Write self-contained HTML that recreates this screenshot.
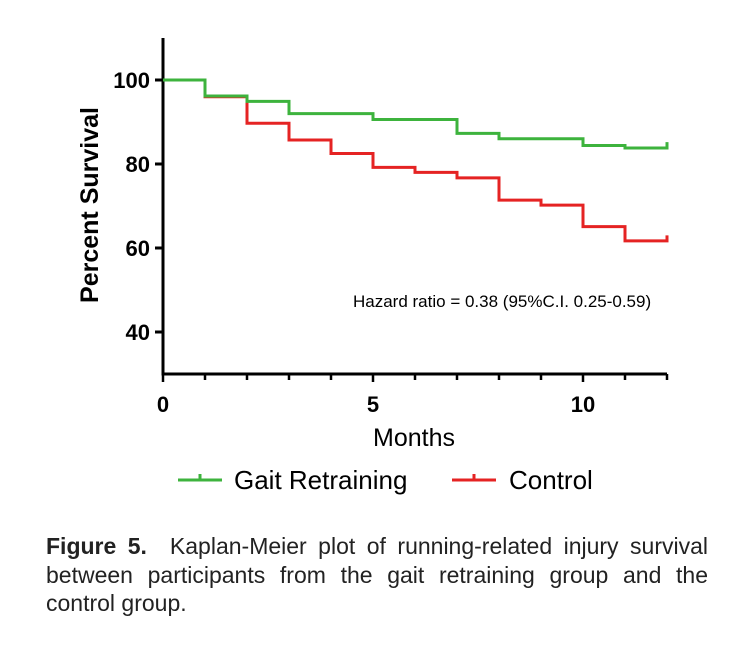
<!DOCTYPE html>
<html><head><meta charset="utf-8"><style>
body{margin:0;background:#fff;width:752px;height:650px;overflow:hidden;font-family:"Liberation Sans",Arial,sans-serif}
.cap{position:absolute;left:46px;top:532px;width:662px;font-size:23px;line-height:28.5px;color:#222}
.cap .j{text-align:justify;text-align-last:justify;white-space:nowrap}
</style></head><body>
<svg width="752" height="520" style="position:absolute;left:0;top:0" font-family="Liberation Sans, Arial, sans-serif">
<g id="axes"></g><g id="series"></g>
<text transform="translate(98,205) rotate(-90)" text-anchor="middle" font-size="25" font-weight="bold">Percent Survival</text>
<text x="414" y="446" text-anchor="middle" font-size="25">Months</text>
<text x="353" y="307" font-size="17">Hazard ratio = 0.38 (95%C.I. 0.25-0.59)</text>
<g><line x1="178" y1="480" x2="222" y2="480" stroke="#3db33d" stroke-width="3"/><line x1="200" y1="474" x2="200" y2="480" stroke="#3db33d" stroke-width="3"/><text x="234" y="489" font-size="26">Gait Retraining</text></g>
<g><line x1="452" y1="480" x2="496" y2="480" stroke="#e52323" stroke-width="3"/><line x1="474" y1="474" x2="474" y2="480" stroke="#e52323" stroke-width="3"/><text x="509" y="489" font-size="26">Control</text></g>
</svg>
<div class="cap"><div class="j"><b>Figure 5.</b>&nbsp; Kaplan-Meier plot of running-related injury survival</div><div class="j">between participants from the gait retraining group and the</div><div>control group.</div></div>
<script>
const months=[0,1,2,3,4,5,6,7,8,9,10,11,12];
const gait=[100,96.2,94.9,92,92,90.6,90.6,87.3,86,86,84.4,83.8];
const control=[100,96,89.7,85.7,82.5,79.2,78,76.7,71.4,70.2,65.1,61.7];
const gaitEnd=85.2, controlEnd=63;
const yTicks=[40,60,80,100];
const xTicks=[0,5,10];
const NS="http://www.w3.org/2000/svg";
const X=m=>163+m*42;
const Y=v=>374-(v-30)*4.2;
function mk(t,a,p){const e=document.createElementNS(NS,t);for(const k in a)e.setAttribute(k,a[k]);p.appendChild(e);return e;}
const ax=document.getElementById('axes');
const yl=mk('line',{x1:163,y1:38,x2:163,y2:375,stroke:'#000','stroke-width':3},ax);


const xl=mk('line',{x1:161.5,y1:374,x2:667,y2:374,stroke:'#000','stroke-width':3},ax);


yTicks.forEach(v=>{
 mk('line',{x1:155,y1:Y(v),x2:163,y2:Y(v),stroke:'#000','stroke-width':3},ax);
 const t=mk('text',{x:150,y:Y(v)+8,'text-anchor':'end','font-size':22,'font-weight':'bold'},ax);
 t.textContent=v;
 
 
});
months.forEach(m=>{mk('line',{x1:X(m),y1:374,x2:X(m),y2:(m%5==0?382:380),stroke:'#000','stroke-width':2.5},ax);});
xTicks.forEach(m=>{
 const t=mk('text',{x:X(m),y:412,'text-anchor':'middle','font-size':22,'font-weight':'bold'},ax);
 t.textContent=m;
 
 
});
const sg=document.getElementById('series');
function steps(vals,end,col,name){
 let d='M'+X(0)+','+Y(vals[0]);
 for(let i=1;i<vals.length;i++){d+=' H'+X(i)+' V'+Y(vals[i]);}
 d+=' H'+X(12)+' V'+Y(end);
 const p=mk('path',{d:d,fill:'none',stroke:col,'stroke-width':3},sg);
 
 
}
steps(control,controlEnd,'#e52323','control-curve');
steps(gait,gaitEnd,'#3db33d','gait-retraining-curve');
</script>
</body></html>
